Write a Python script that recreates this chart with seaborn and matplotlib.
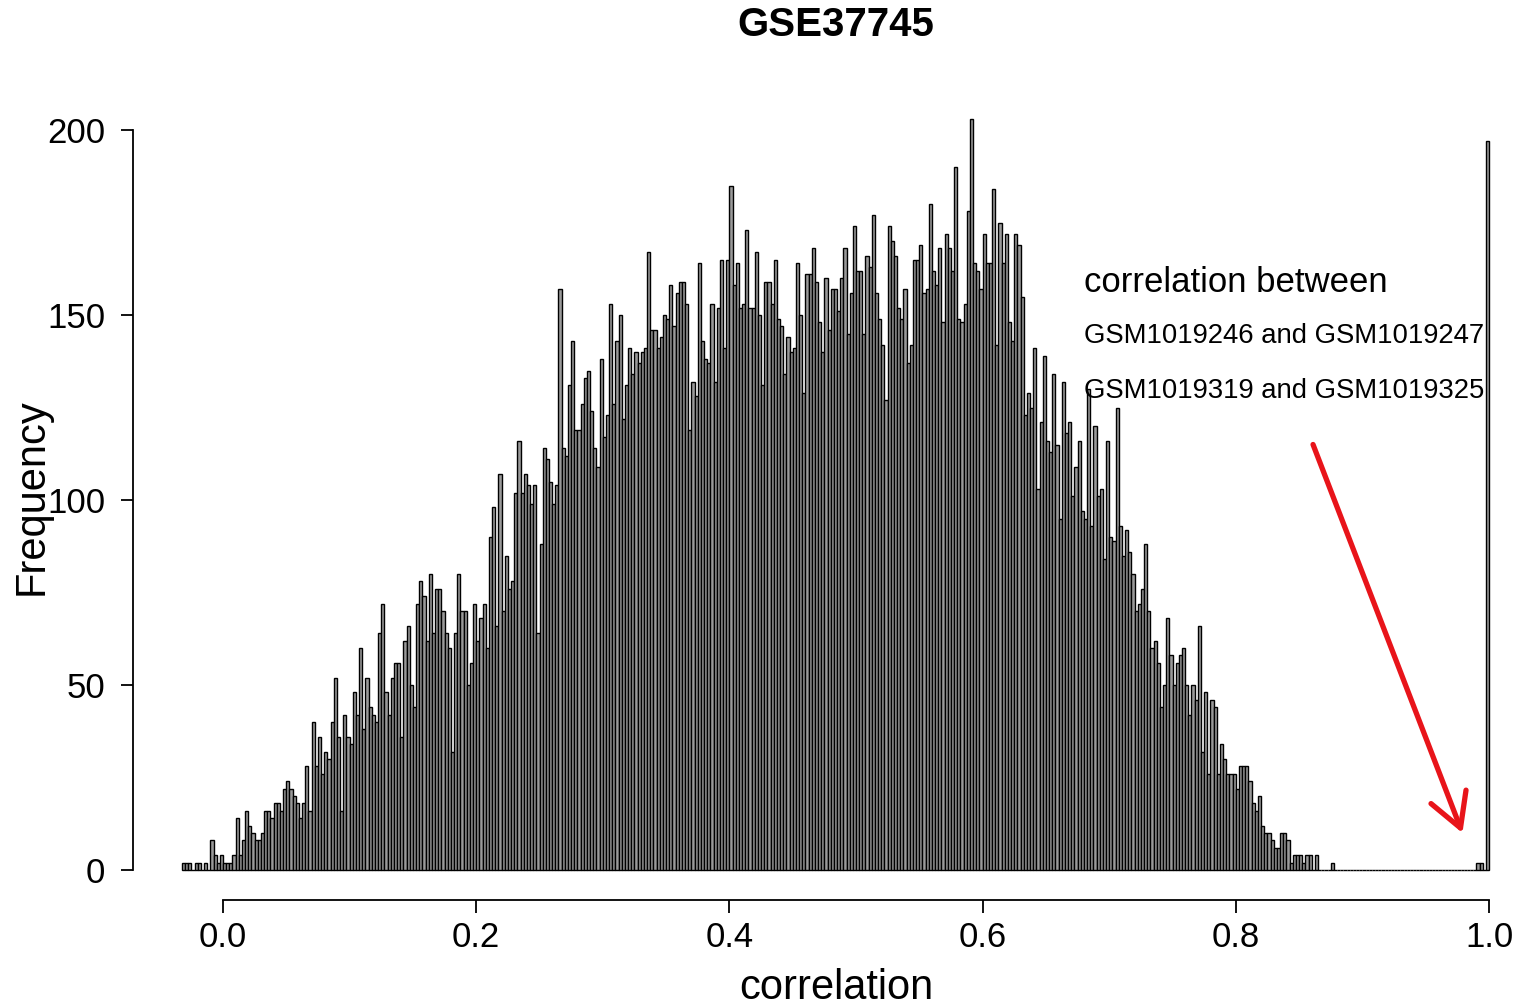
import numpy as np
import pandas as pd
import matplotlib
matplotlib.use("Agg")
import matplotlib.pyplot as plt
import seaborn as sns

# ---------------- data ----------------
title = "GSE37745"
x_label = "correlation"
y_label = "Frequency"
note_title = "correlation between"
note_pairs = ["GSM1019246 and GSM1019247", "GSM1019319 and GSM1019325"]
x_ticks = [0.0, 0.2, 0.4, 0.6, 0.8, 1.0]
x_tick_labels = ["0.0", "0.2", "0.4", "0.6", "0.8", "1.0"]
y_ticks = [0, 50, 100, 150, 200]

bin_start = -0.0325
bin_width = 0.0025

counts_a = [2, 2, 2, 0, 2, 2, 0, 2, 0, 8, 4, 2, 4, 2, 2, 2, 4, 14, 4, 8, 16, 12, 10, 8, 8, 10, 16, 16, 14, 18, 18, 16, 22, 24]
counts_b = [22, 20, 18, 14, 18, 28, 16, 40, 28, 36, 26, 32, 30, 40, 52, 36, 16, 42, 36, 34, 48, 42, 60, 38, 52, 44, 42, 40, 64, 72, 48, 42, 52, 56]
counts_c = [56, 36, 62, 66, 50, 44, 72, 78, 74, 62, 80, 64, 76, 76, 70, 64, 60, 32, 64, 80, 70, 70, 50, 56, 72, 62, 68, 72, 60, 90, 98, 66, 107]
counts_d = [70, 85, 76, 78, 102, 116, 102, 107, 104, 99, 104, 64, 88, 114, 111, 105, 99, 104, 157, 114, 112, 131, 143, 119, 119, 126, 133, 135, 124, 114, 109, 138, 117]
counts_e = [123, 153, 126, 143, 150, 122, 131, 141, 134, 140, 137, 140, 141, 167, 146, 146, 141, 144, 150, 149, 158, 147, 156, 159, 159, 153, 119, 132, 128, 164, 143, 138, 137]
counts_f = [153, 132, 152, 165, 141, 165, 185, 158, 164, 152, 153, 173, 152, 152, 167, 150, 131, 159, 159, 153, 165, 149, 147, 134, 144, 140, 141, 164, 150, 129, 161, 161, 168]
counts_g = [159, 148, 140, 160, 146, 157, 157, 151, 160, 168, 145, 156, 174, 162, 162, 145, 166, 163, 177, 156, 149, 142, 127, 174, 170, 166, 152, 149, 157, 137, 142, 165, 165]
counts_h = [169, 156, 157, 180, 162, 158, 168, 148, 172, 168, 162, 190, 149, 148, 153, 178, 203, 164, 162, 157, 172, 164, 164, 184, 142, 175, 164, 172, 148, 143, 172, 169, 155]
counts_i = [123, 129, 125, 141, 103, 121, 139, 116, 113, 134, 115, 95, 132, 118, 121, 101, 109, 116, 97, 95, 130, 93, 120, 101, 103, 84, 116, 90, 89, 125, 93, 85, 92, 86]
counts_j = [80, 70, 72, 76, 88, 70, 60, 62, 56, 44, 50, 68, 58, 50, 56, 58, 60, 50, 42, 50, 46, 66, 32, 48, 26, 46, 44, 26, 34, 30, 26, 26, 26]
counts_k = [22, 28, 28, 28, 24, 18, 16, 20, 12, 10, 10, 8, 6, 6, 10, 10, 8, 2, 4, 4, 4, 2, 4, 4, 0, 4, 0, 0, 0, 0, 2, 0, 0]
counts_l = [0, 0, 0, 0, 0, 0, 0, 0, 0, 0, 0, 0, 0, 0, 0, 0, 0, 0, 0, 0, 0, 0,
            0, 0, 0, 0, 0, 0, 0, 0, 0, 0, 0, 0, 0, 0, 0, 0, 0, 0, 0, 0, 0,
            2, 2, 0, 197]

# annotation arrow (start / end, in data units)
arrow_from = (0.861, 115)
arrow_to = (0.979, 10)

# ---------------- plot ----------------
sns.set_theme(style="white")
plt.rcParams['font.family'] = ['Liberation Sans', 'DejaVu Sans']
plt.rcParams['text.color'] = 'black'

W, H = 1520, 1008
fig = plt.figure(figsize=(W / 100, H / 100), dpi=100)
ax = fig.add_axes([133 / W, (H - 900) / H, (1510 - 133) / W, 800 / H])

counts = np.array(counts_a + counts_b + counts_c + counts_d + counts_e + counts_f +
                  counts_g + counts_h + counts_i + counts_j + counts_k + counts_l, dtype=float)
edges = bin_start + bin_width * np.arange(len(counts) + 1)
centers = (edges[:-1] + edges[1:]) / 2
df = pd.DataFrame({"correlation": centers, "count": counts})

sns.histplot(data=df, x="correlation", weights="count", bins=list(edges), ax=ax,
             color="#9a9a9a", edgecolor="black", linewidth=1.0, alpha=1, fill=True)

ax.set_xlim((133 - 223) / 1266, (1510 - 223) / 1266)
ax.set_ylim(-30 / 3.7, 770 / 3.7)

for s in ["top", "right"]:
    ax.spines[s].set_visible(False)
ax.spines["left"].set_bounds(0, 200)
ax.spines["bottom"].set_bounds(0, 1)
for s in ["left", "bottom"]:
    ax.spines[s].set_color("black")
    ax.spines[s].set_linewidth(1.3)

ax.set_xticks(x_ticks)
ax.set_xticklabels(x_tick_labels)
ax.set_yticks(y_ticks)
ax.set_yticklabels([str(v) for v in y_ticks])
ax.tick_params(axis="both", direction="out", length=9, width=1.3, color="black",
               labelsize=25, labelcolor="black", bottom=True, left=True)
ax.tick_params(axis="x", pad=6)
ax.tick_params(axis="y", pad=11)
ax.set_xlabel("")
ax.set_ylabel("")
ax.grid(False)

fig.text(836 / W, 1 - 25 / H, title, fontsize=29, fontweight="bold", ha="center", va="center", color="black")
fig.text(836 / W, 1 - 988 / H, x_label, fontsize=30, ha="center", va="center", color="black")
fig.text(32 / W, 1 - 497 / H, y_label, fontsize=30, rotation=90, ha="center", va="center", color="black")

fig.text(1084 / W, 1 - 282 / H, note_title, fontsize=25, ha="left", va="center", color="black")
fig.text(1084 / W, 1 - 336 / H, note_pairs[0], fontsize=19.8, ha="left", va="center", color="black")
fig.text(1084 / W, 1 - 391 / H, note_pairs[1], fontsize=19.8, ha="left", va="center", color="black")

ax.annotate("", xy=arrow_to, xytext=arrow_from,
            arrowprops=dict(arrowstyle="->,head_length=0.8,head_width=0.45",
                            color="#e8141a", lw=3.8, mutation_scale=30,
                            shrinkA=0, shrinkB=0))

fig.savefig("out.png", dpi=100, facecolor="white")
